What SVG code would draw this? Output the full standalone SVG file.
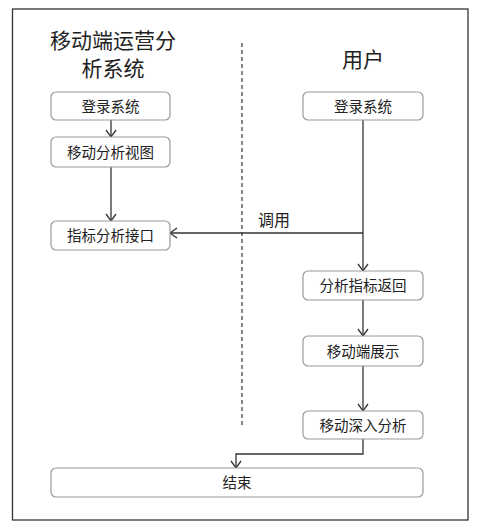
<svg xmlns="http://www.w3.org/2000/svg" width="477" height="530" viewBox="0 0 477 530">
<defs>
<marker id="arr" markerWidth="12" markerHeight="12" refX="10" refY="6" orient="auto" markerUnits="userSpaceOnUse">
<polyline points="3,1 10,6 3,11" fill="none" stroke="#333" stroke-width="1.3"/>
</marker>
<style>
.box{fill:#fff;stroke:#999;stroke-width:1.2}
.t{font-family:"Noto Sans CJK SC","Noto Sans",sans-serif;fill:#222;text-anchor:middle}
.n{font-size:14.5px}
.big{font-size:21px}
.c{fill:none;stroke:#333;stroke-width:1.3;marker-end:url(#arr)}
</style>
</defs>
<rect x="0" y="0" width="477" height="530" fill="#fff"/>
<rect x="12.5" y="9" width="455.5" height="511" fill="#fff" stroke="#333" stroke-width="1.3"/>
<line x1="242" y1="43" x2="242" y2="425" stroke="#333" stroke-width="1.2" stroke-dasharray="4,3"/>
<text class="t big" x="113" y="48">移动端运营分</text>
<text class="t big" x="113" y="76">析系统</text>
<text class="t big" x="363" y="67">用户</text>
<g id="connectors">
<line class="c" x1="111" y1="120" x2="111" y2="137"/>
<line class="c" x1="111" y1="167" x2="111" y2="221"/>
<line class="c" x1="363" y1="120" x2="363" y2="271"/>
<polyline class="c" points="363,233 170,233"/>
<line class="c" x1="363" y1="300" x2="363" y2="336"/>
<line class="c" x1="363" y1="366" x2="363" y2="411"/>
<polyline class="c" points="363,439 363,454 236,454 236,468"/>
<text class="t" x="274" y="226" font-size="16">调用</text>
</g>
<g id="l1"><rect class="box" x="51" y="92" width="119" height="28" rx="5"/><text class="t n" x="110.5" y="112">登录系统</text></g>
<g id="l2"><rect class="box" x="51" y="137" width="119" height="30" rx="5"/><text class="t n" x="110.5" y="157.5">移动分析视图</text></g>
<g id="l3"><rect class="box" x="51" y="221" width="119" height="29" rx="5"/><text class="t n" x="110.5" y="241">指标分析接口</text></g>
<g id="r1"><rect class="box" x="303" y="92" width="120" height="28" rx="5"/><text class="t n" x="363" y="112">登录系统</text></g>
<g id="r2"><rect class="box" x="303" y="271" width="120" height="29" rx="5"/><text class="t n" x="363" y="291">分析指标返回</text></g>
<g id="r3"><rect class="box" x="303" y="336" width="120" height="30" rx="5"/><text class="t n" x="363" y="356.5">移动端展示</text></g>
<g id="r4"><rect class="box" x="303" y="411" width="120" height="28" rx="5"/><text class="t n" x="363" y="431">移动深入分析</text></g>
<g id="end"><rect class="box" x="51" y="468" width="372" height="29" rx="5"/><text class="t n" x="237" y="488">结束</text></g>
</svg>
